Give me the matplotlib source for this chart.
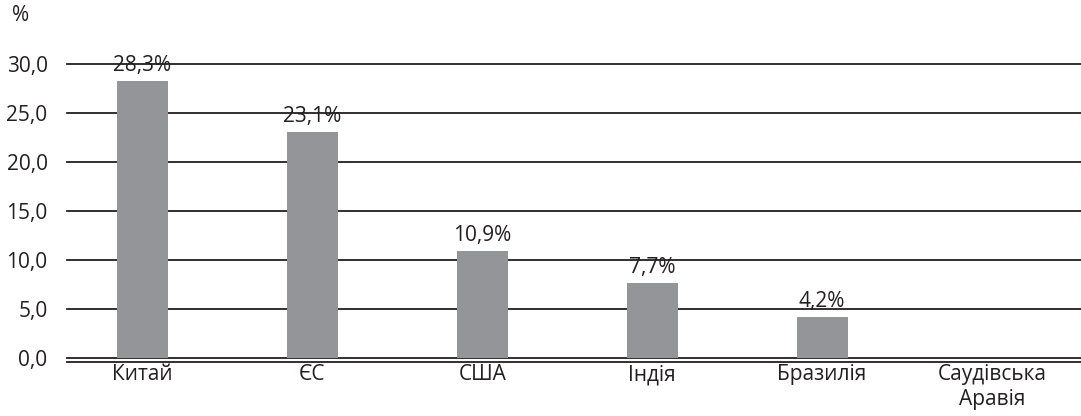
import matplotlib.pyplot as plt
import numpy as np

# Data
categories = ["Китай", "ЄС", "США", "Індія", "Бразилія", "Саудівська\nАравія"]
values = [28.3, 23.1, 10.9, 7.7, 4.2, np.nan]
labels = ["28,3%", "23,1%", "10,9%", "7,7%", "4,2%", ""]
yticks = [0, 5, 10, 15, 20, 25, 30]

plt.rcParams['font.family'] = ['Open Sans', 'DejaVu Sans']
txt = "#231f20"
fs = 15

fig = plt.figure(figsize=(10.81, 4.16), dpi=100)
ax = fig.add_axes([0.062, 0.139, 0.938, 0.707])

x = np.arange(len(categories))
bars = ax.bar(x, np.nan_to_num(values), width=0.30, color="#939598", zorder=3)

# value labels
for xi, v, lab in zip(x, values, labels):
    if lab:
        ax.text(xi, v + 0.5, lab, ha="center", va="bottom", fontsize=fs, color=txt, zorder=4)

# grid lines
for t in yticks:
    ax.axhline(t, color="#231f20", lw=1.3, zorder=1, clip_on=False)

ax.set_xlim(-0.444, 5.524)
ax.set_ylim(0, 30)
ax.set_yticks(yticks)
ax.set_yticklabels([f"{t:.1f}".replace(".", ",") for t in yticks])
ax.set_xticks(x)
ax.set_xticklabels(categories, linespacing=1.05)
ax.tick_params(length=0, pad=2, labelsize=fs, labelcolor=txt)
ax.tick_params(axis="y", pad=14)

for s in ["top", "right", "left"]:
    ax.spines[s].set_visible(False)
ax.spines["bottom"].set_position(("outward", 2.5))
ax.spines["bottom"].set_color("#231f20")
ax.spines["bottom"].set_linewidth(1.3)

fig.text(0.011, 0.963, "%", fontsize=fs, color=txt, ha="left", va="center")

fig.savefig("out.png", dpi=100)
